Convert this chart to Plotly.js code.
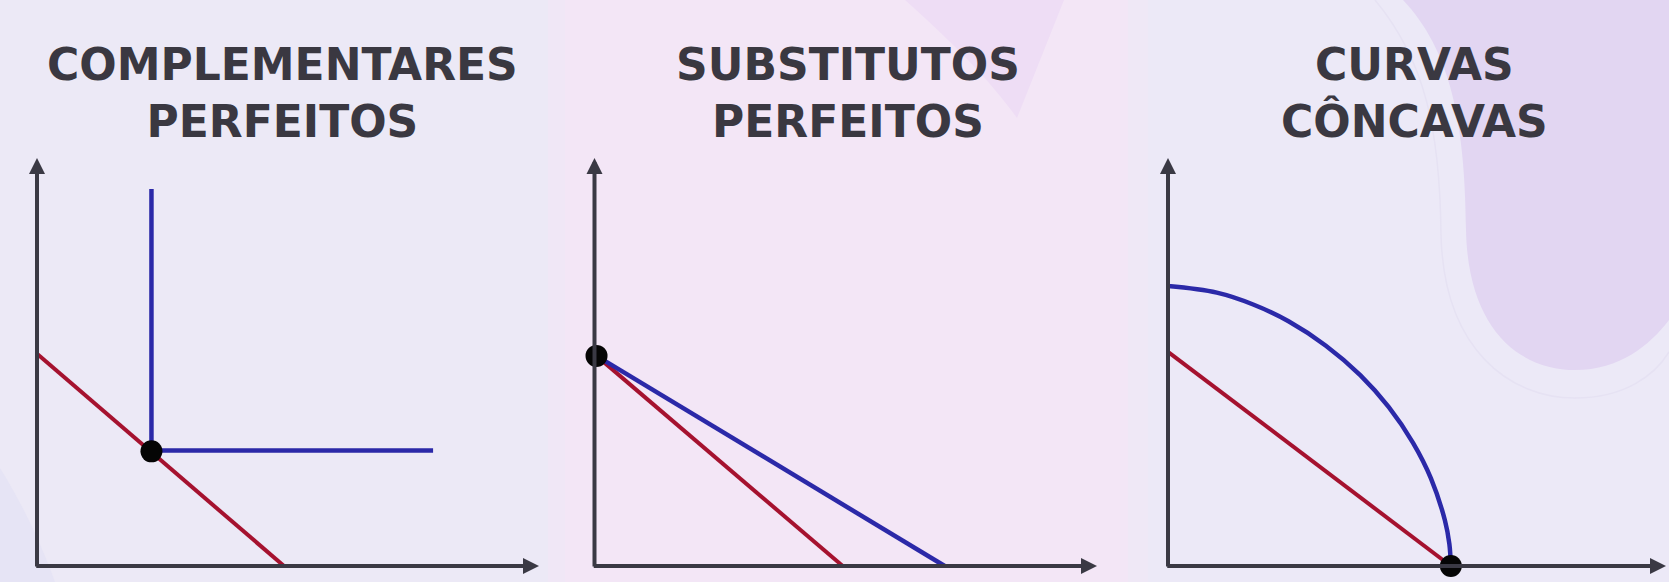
<!DOCTYPE html>
<html>
<head>
<meta charset="utf-8">
<script src="https://cdn.plot.ly/plotly-3.0.1.min.js"></script>
<style>html,body{margin:0;padding:0;background:#ECE9F6;}#chart{width:1669px;height:582px;}</style>
</head>
<body>
<div id="chart"></div>
<script>
// ---- data ----
const titles = ['COMPLEMENTARES<br>PERFEITOS', 'SUBSTITUTOS<br>PERFEITOS', 'CURVAS<br>CÔNCAVAS'];

// Panel 1: perfect complements
const p1BudgetX = [0, 4.92];
const p1BudgetY = [5.2, 0];
const p1IndiffX = [2.28, 2.28, 7.89];
const p1IndiffY = [9.24, 2.83, 2.83];
const p1OptX = [2.28];
const p1OptY = [2.81];

// Panel 2: perfect substitutes
const p2BudgetX = [0.04, 4.94];
const p2BudgetY = [5.15, 0];
const p2IndiffX = [0.04, 6.97];
const p2IndiffY = [5.15, 0];
const p2OptX = [0.04];
const p2OptY = [5.15];

// Panel 3: concave curves
const p3BudgetX = [0, 5.68];
const p3BudgetY = [5.25, 0];
const p3IndiffX = [0, 0.98, 1.71, 2.42, 3.17, 3.86, 4.43, 4.92, 5.28, 5.56, 5.65, 5.68];
const p3IndiffY = [6.86, 6.70, 6.41, 6.00, 5.40, 4.68, 3.90, 3.02, 2.15, 1.12, 0.54, 0];
const p3OptX = [5.68];
const p3OptY = [0];

// ---- layout helpers ----
const W = 1669, H = 582;
const BLUE = '#2B29A8', RED = '#A5122F', AXIS = '#3A3944', TEXT = '#3A3841';
const panels = [
  {ox: 37, unit: 50.2, center: 282},
  {ox: 594.5, unit: 50.25, center: 848},
  {ox: 1168, unit: 49.8, center: 1414}
];
const XMIN = -0.35, XMAX = 10, YMIN = -0.3, YMAX = 10.2;
const OY = 566, UY = 40.8;
const yDom = [1 - (OY - YMIN * UY) / H, 1 - (OY - YMAX * UY) / H];
const px = v => v / W, py = v => 1 - v / H;

const layout = {
  width: W, height: H,
  margin: {l: 0, r: 0, t: 0, b: 0},
  paper_bgcolor: '#ECE9F6',
  plot_bgcolor: 'rgba(0,0,0,0)',
  showlegend: false,
  shapes: [],
  annotations: []
};

panels.forEach((p, i) => {
  const sfx = i === 0 ? '' : String(i + 1);
  const dom = [px(p.ox + XMIN * p.unit), px(p.ox + XMAX * p.unit)];
  layout['xaxis' + sfx] = {domain: dom, range: [XMIN, XMAX], visible: false, fixedrange: true, anchor: 'y' + sfx};
  layout['yaxis' + sfx] = {domain: yDom, range: [YMIN, YMAX], visible: false, fixedrange: true, anchor: 'x' + sfx};
  const xr = 'x' + sfx, yr = 'y' + sfx;
  // axes with arrows
  layout.annotations.push({
    xref: xr, yref: yr, axref: xr, ayref: yr,
    x: XMAX, y: 0, ax: -0.045, ay: 0,
    showarrow: true, arrowhead: 2, arrowsize: 0.8, arrowwidth: 4, arrowcolor: AXIS, text: '', standoff: 0
  });
  layout.annotations.push({
    xref: xr, yref: yr, axref: xr, ayref: yr,
    x: 0, y: 10, ax: 0, ay: -0.05,
    showarrow: true, arrowhead: 2, arrowsize: 0.8, arrowwidth: 4, arrowcolor: AXIS, text: '', standoff: 0
  });
  // title
  layout.annotations.push({
    xref: 'paper', yref: 'paper', x: px(p.center), y: py(93), xanchor: 'center', yanchor: 'middle',
    text: titles[i], showarrow: false, align: 'center',
    font: {family: 'DejaVu Sans', size: 44, color: TEXT, weight: 700}
  });
});

// background decoration
layout.shapes.push(
  {type: 'rect', xref: 'paper', yref: 'paper', x0: px(548), x1: px(565), y0: 0, y1: 1, fillcolor: '#F0E7F6', line: {width: 0}, layer: 'below'},
  {type: 'rect', xref: 'paper', yref: 'paper', x0: px(565), x1: px(1128), y0: 0, y1: 1, fillcolor: '#F3E6F6', line: {width: 0}, layer: 'below'},
  {type: 'rect', xref: 'paper', yref: 'paper', x0: px(1128), x1: px(1148), y0: 0, y1: 1, fillcolor: '#EFE8F6', line: {width: 0}, layer: 'below'},
  {type: 'rect', xref: 'paper', yref: 'paper', x0: px(1148), x1: 1, y0: 0, y1: 1, fillcolor: '#ECE9F7', line: {width: 0}, layer: 'below'},
  {type: 'path', xref: 'paper', yref: 'paper', layer: 'below', line: {width: 0}, fillcolor: '#EEDDF5',
   path: `M${px(905)},${py(0)} L${px(1064)},${py(0)} L${px(1017)},${py(118)} C${px(990)},${py(80)} ${px(950)},${py(40)} ${px(905)},${py(0)} Z`},
  {type: 'path', xref: 'paper', yref: 'paper', layer: 'below', line: {color: '#E6E2F3', width: 1.5}, fillcolor: 'rgba(0,0,0,0)',
   path: `M${px(1375)},${py(0)} C${px(1425)},${py(60)} ${px(1440)},${py(130)} ${px(1441)},${py(235)} C${px(1444)},${py(350)} ${px(1510)},${py(398)} ${px(1575)},${py(398)} C${px(1625)},${py(398)} ${px(1655)},${py(375)} ${px(1669)},${py(352)}`},
  {type: 'path', xref: 'paper', yref: 'paper', layer: 'below', line: {width: 0}, fillcolor: '#E2D6F2',
   path: `M${px(1403)},${py(0)} C${px(1450)},${py(50)} ${px(1465)},${py(120)} ${px(1466)},${py(230)} C${px(1468)},${py(330)} ${px(1520)},${py(370)} ${px(1575)},${py(370)} C${px(1620)},${py(370)} ${px(1650)},${py(345)} ${px(1669)},${py(320)} L${px(1669)},${py(0)} Z`},
  {type: 'path', xref: 'paper', yref: 'paper', layer: 'below', line: {width: 0}, fillcolor: '#E6E4F5',
   path: `M${px(0)},${py(468)} C${px(20)},${py(500)} ${px(40)},${py(540)} ${px(55)},${py(582)} L${px(0)},${py(582)} Z`}
);

// ---- traces ----
function line(x, y, color, width, ax, shape) {
  return {type: 'scatter', mode: 'lines', x: x, y: y, xaxis: ax[0], yaxis: ax[1],
          line: {color: color, width: width, shape: shape || 'linear', smoothing: 1}, hoverinfo: 'skip'};
}
function dot(x, y, ax) {
  return {type: 'scatter', mode: 'markers', x: x, y: y, xaxis: ax[0], yaxis: ax[1], cliponaxis: false,
          marker: {color: '#050505', size: 22}, hoverinfo: 'skip'};
}
const A1 = ['x', 'y'], A2 = ['x2', 'y2'], A3 = ['x3', 'y3'];
const data = [
  line(p1BudgetX, p1BudgetY, RED, 4, A1),
  line(p1IndiffX, p1IndiffY, BLUE, 4.5, A1),
  dot(p1OptX, p1OptY, A1),
  line(p2BudgetX, p2BudgetY, RED, 4, A2),
  line(p2IndiffX, p2IndiffY, BLUE, 4.5, A2),
  dot(p2OptX, p2OptY, A2),
  line(p3BudgetX, p3BudgetY, RED, 4, A3),
  line(p3IndiffX, p3IndiffY, BLUE, 4.5, A3, 'spline'),
  dot(p3OptX, p3OptY, A3)
];

Plotly.newPlot('chart', data, layout, {displayModeBar: false, staticPlot: true});
</script>
</body>
</html>
